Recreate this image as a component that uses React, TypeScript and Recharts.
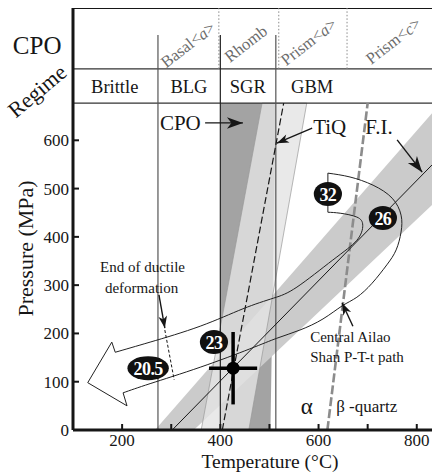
import React from "react";
import {
  ComposedChart,
  XAxis,
  YAxis,
  Line,
  Area,
  Scatter,
  ReferenceDot,
} from "recharts";

const SERIF = "'Liberation Serif', 'Times New Roman', Times, serif";
const INK = "#161616";

type Pt = [number, number];

// axes: temperature (°C) and pressure (MPa)
const tempTicks = [200, 300, 400, 500, 600, 700, 800];
const tempLabelled = [200, 400, 600, 800];
const pressureTicks = [0, 100, 200, 300, 400, 500, 600];

// the two header rows live above the plot, in MPa of the same axis
const frameTop = 874;
const regimeRowTop = 748;
const plotTop = 677;
const boundaryTop = 818;

// deformation regimes and CPO slip systems
const regimeBounds = [273, 400, 513];
const cpoDividers = [397, 519, 658];
const regimes = ["Brittle", "BLG", "SGR", "GBM"];
const regimeMid = [185, 336, 456, 587];
const regimeRowP = 710;
const slipSystems = ["Basal<a>", "Rhomb", "Prism<a>", "Prism<c>"];
const slipMid = [334, 452, 580, 752];
const slipRowP = [798, 800, 804, 806];

// shaded fields
const cpoBand: Pt[] = [[400, 0], [502, 0], [513, 677], [400, 677]];
const tiqBand: Pt[] = [[361, 0], [458, 0], [576, 677], [485, 677]];
const fiBand: Pt[] = [[267, 0], [346, 0], [831, 466], [831, 656]];

// lines
const fiLine: Pt[] = [[302, 0], [831, 549]];
const tiqLine: Pt[] = [[404, 0], [529, 677]];
const quartzTransition: Pt[] = [[618, 0], [700, 677]];
const ductileEnd: Pt[] = [[287, 207], [306, 104]];

// Central Ailao Shan P-T-t path outline
const pathInner: Pt[] = [
  [186, 161], [257, 182], [359, 215], [446, 251], [508, 273], [556, 296],
  [629, 352], [678, 393], [690, 424], [678, 441], [644, 449], [619, 451],
];
const pathStep: Pt[] = [[619, 451], [619, 532]];
const pathOuter: Pt[] = [
  [619, 532], [664, 524], [711, 507], [750, 480], [768, 445], [768, 410],
  [758, 373], [739, 342], [709, 304], [678, 275], [648, 257], [609, 230],
  [562, 207], [515, 190], [460, 168], [359, 130], [257, 96], [202, 77],
];
const pathHead: Pt[] = [[186, 161], [179, 182], [130, 98], [210, 50], [202, 77]];

// ages (Ma) along the path
const ages = ["32", "26", "23", "20.5"];
const ageT = [619, 731, 387, 253];
const ageP = [489, 439, 182, 128];

// P-T estimate with error
const sampleT = 426;
const sampleP = 128;
const sampleTErr = 49;
const samplePErr = 75;

// pointer arrows
const bigArrows: Pt[][] = [
  [[369, 636], [446, 636]],
  [[760, 601], [811, 534]],
];
const smallArrows: Pt[][] = [
  [[587, 625], [515, 594]],
  [[275, 280], [287, 211]],
  [[670, 215], [648, 263]],
];

// notes
const pointerNotes = [
  { text: "CPO", T: 277, P: 635 },
  { text: "TiQ", T: 589, P: 628 },
  { text: "F.I.", T: 695, P: 627 },
];
const pathNotes = [
  { text: "End of ductile", T: 155, P: 338 },
  { text: "deformation", T: 165, P: 294 },
  { text: "Central Ailao", T: 583, P: 193 },
  { text: "Shan P-T-t path", T: 583, P: 151 },
];
const phaseNotes = [
  { text: "α", T: 564, P: 48, size: 23 },
  { text: "β -quartz", T: 636, P: 48, size: 17 },
];

const rows = (pts: Pt[]) => pts.map(([T, P]) => ({ T, P }));
const closed = (pts: Pt[]) => rows([...pts, pts[0]]);

const arrowHead = (size: number) => (p: any) => {
  if (p.index !== 1 || !p.points || p.points.length < 2) return <g key={`a${p.index}`} />;
  const a = p.points[0];
  const b = p.points[1];
  const dx = b.x - a.x;
  const dy = b.y - a.y;
  const len = Math.hypot(dx, dy) || 1;
  const ux = dx / len;
  const uy = dy / len;
  const w = size * 0.36;
  const bx = b.x - ux * size;
  const by = b.y - uy * size;
  const nx = b.x - ux * size * 0.72;
  const ny = b.y - uy * size * 0.72;
  const pts = `${b.x},${b.y} ${bx - uy * w},${by + ux * w} ${nx},${ny} ${bx + uy * w},${by - ux * w}`;
  return <polygon key={`a${p.index}`} points={pts} fill={INK} />;
};

const noteShape = (size: number) => (p: any) => (
  <text x={p.cx} y={p.cy} dominantBaseline="central" fontFamily={SERIF}
    fontSize={p.payload.size ?? size} fill={INK}>
    {p.payload.text}
  </text>
);

const ageShape = (p: any) => {
  const t = p.payload.text as string;
  return (
    <g>
      <ellipse cx={p.cx} cy={p.cy} rx={7.5 + t.length * 3.3} ry={12} fill="#111" />
      <text x={p.cx} y={p.cy + 1} textAnchor="middle" dominantBaseline="central"
        fontFamily={SERIF} fontWeight="bold" fontSize={18} letterSpacing={-0.6} fill="#fff">
        {t}
      </text>
    </g>
  );
};

const regimeShape = (p: any) => (
  <text x={p.cx} y={p.cy} textAnchor="middle" dominantBaseline="central"
    fontFamily={SERIF} fontSize={18.5} fill={INK}>
    {p.payload.text}
  </text>
);

const slipShape = (p: any) => {
  const m = (p.payload.text as string).match(/^([^<]+)(?:<(.)>)?$/) || [];
  return (
    <text x={p.cx} y={p.cy} transform={`rotate(-38 ${p.cx} ${p.cy})`} textAnchor="middle"
      dominantBaseline="central" fontFamily={SERIF} fontSize={16.5} fill="#6c6c6c">
      {m[1]}
      {m[2] ? (
        <>
          {"<"}
          <tspan fontStyle="italic">{m[2]}</tspan>
          {">"}
        </>
      ) : null}
    </text>
  );
};

const sampleShape = (p: any) => <circle cx={p.cx} cy={p.cy} r={6.5} fill="#000" />;

const outsideText = (
  key: string,
  T: number,
  P: number,
  text: string,
  size: number,
  angle = 0
) => (
  <ReferenceDot
    key={key}
    x={T}
    y={P}
    r={0}
    ifOverflow="visible"
    shape={(p: any) => (
      <text x={p.cx} y={p.cy} transform={angle ? `rotate(${angle} ${p.cx} ${p.cy})` : undefined}
        textAnchor="middle" dominantBaseline="central" fontFamily={SERIF} fontSize={size} fill={INK}>
        {text}
      </text>
    )}
  />
);

const seg = (key: string, pts: Pt[], stroke: string, width: number, dash?: string) => (
  <Line key={key} data={rows(pts)} dataKey="P" type="linear" stroke={stroke} strokeWidth={width}
    strokeDasharray={dash} dot={false} activeDot={false} isAnimationActive={false} legendType="none" />
);

export default function App() {
  const regimeData = regimes.map((text, i) => ({ text, T: regimeMid[i], P: regimeRowP }));
  const slipData = slipSystems.map((text, i) => ({ text, T: slipMid[i], P: slipRowP[i] }));
  const ageData = ages.map((text, i) => ({ text, T: ageT[i], P: ageP[i] }));

  return (
    <div
      style={{
        position: "absolute",
        left: 0,
        top: 0,
        width: 432,
        height: 474,
        background: "#fff",
        fontFamily: SERIF,
      }}
    >
      <ComposedChart width={432} height={474} margin={{ top: 8, right: 0, bottom: 0, left: 0 }}>
        <XAxis
          type="number"
          dataKey="T"
          domain={[100, 831]}
          allowDataOverflow
          ticks={tempTicks}
          tickFormatter={(v: number) => (tempLabelled.includes(v) ? String(v) : "")}
          height={44}
          tickSize={-6}
          tickMargin={10}
          axisLine={{ stroke: INK, strokeWidth: 3 }}
          tickLine={{ stroke: INK, strokeWidth: 2 }}
          tick={{ fill: INK, fontSize: 17, fontFamily: SERIF }}
        />
        <YAxis
          type="number"
          dataKey="P"
          domain={[0, frameTop]}
          allowDataOverflow
          ticks={pressureTicks}
          width={73}
          tickSize={-6}
          tickMargin={10}
          axisLine={{ stroke: INK, strokeWidth: 3 }}
          tickLine={{ stroke: INK, strokeWidth: 2 }}
          tick={{ fill: INK, fontSize: 17, fontFamily: SERIF }}
        />

        <Area data={closed(cpoBand)} dataKey="P" type="linear" fill="#a3a3a3" fillOpacity={1}
          stroke="none" isAnimationActive={false} legendType="none" activeDot={false} />
        <Area data={closed(fiBand)} dataKey="P" type="linear" fill="#cbcbcb" fillOpacity={1}
          stroke="none" isAnimationActive={false} legendType="none" activeDot={false} />
        <Area data={closed(tiqBand)} dataKey="P" type="linear" fill="#e4e4e4" fillOpacity={0.8}
          stroke="#9a9a9a" strokeWidth={0.7} isAnimationActive={false} legendType="none" activeDot={false} />

        {/* header frame */}
        {seg("top", [[100, frameTop], [831, frameTop]], INK, 2)}
        {seg("row", [[100, regimeRowTop], [831, regimeRowTop]], "#333", 1.3)}
        {seg("plotTop", [[100, plotTop], [831, plotTop]], "#333", 1.3)}
        {cpoDividers.map((T, i) =>
          seg(`div${i}`, [[T, regimeRowTop], [T, frameTop]], "#8a8a8a", 1, "1.5 2")
        )}
        {regimeBounds.map((T, i) =>
          seg(`rb${i}`, [[T, 0], [T, boundaryTop]], i === 1 ? "#222" : "#555", 1.2)
        )}

        {seg("quartz", quartzTransition, "#8c8c8c", 2.6, "9 3")}
        {seg("tiq", tiqLine, INK, 1.2, "7 3")}
        {seg("fi", fiLine, INK, 1)}
        {seg("ductile", ductileEnd, INK, 1, "3 2")}

        {/* P-T-t path */}
        <Line data={rows(pathInner)} dataKey="P" type="natural" stroke="#222" strokeWidth={1}
          dot={false} activeDot={false} isAnimationActive={false} legendType="none" />
        <Line data={rows(pathOuter)} dataKey="P" type="natural" stroke="#222" strokeWidth={1}
          dot={false} activeDot={false} isAnimationActive={false} legendType="none" />
        {seg("step", pathStep, "#222", 1)}
        {seg("head", pathHead, "#222", 1)}

        {/* error cross */}
        {seg("errT", [[sampleT - sampleTErr, sampleP], [sampleT + sampleTErr, sampleP]], "#000", 3.5)}
        {seg("errP", [[sampleT, sampleP - samplePErr], [sampleT, sampleP + samplePErr]], "#000", 3.5)}

        {bigArrows.map((a, i) => (
          <Line key={`ba${i}`} data={rows(a)} dataKey="P" type="linear" stroke={INK} strokeWidth={1.4}
            dot={arrowHead(16)} activeDot={false} isAnimationActive={false} legendType="none" />
        ))}
        {smallArrows.map((a, i) => (
          <Line key={`sa${i}`} data={rows(a)} dataKey="P" type="linear" stroke={INK} strokeWidth={1.4}
            dot={arrowHead(12)} activeDot={false} isAnimationActive={false} legendType="none" />
        ))}

        <Scatter data={[{ T: sampleT, P: sampleP }]} dataKey="P" shape={sampleShape} isAnimationActive={false} legendType="none" />
        <Scatter data={ageData} dataKey="P" shape={ageShape} isAnimationActive={false} legendType="none" />
        <Scatter data={regimeData} dataKey="P" shape={regimeShape} isAnimationActive={false} legendType="none" />
        <Scatter data={slipData} dataKey="P" shape={slipShape} isAnimationActive={false} legendType="none" />
        <Scatter data={pointerNotes} dataKey="P" shape={noteShape(21)} isAnimationActive={false} legendType="none" />
        <Scatter data={pathNotes} dataKey="P" shape={noteShape(15)} isAnimationActive={false} legendType="none" />
        <Scatter data={phaseNotes} dataKey="P" shape={noteShape(17)} isAnimationActive={false} legendType="none" />

        {outsideText("cpoHead", 27, 797, "CPO", 25)}
        {outsideText("regimeHead", 27, 702, "Regime", 22, -40)}
        {outsideText("yTitle", 4, 376, "Pressure (MPa)", 22, -90)}
        {outsideText("xTitle", 501, -66, "Temperature (°C)", 19.5)}
      </ComposedChart>
    </div>
  );
}
